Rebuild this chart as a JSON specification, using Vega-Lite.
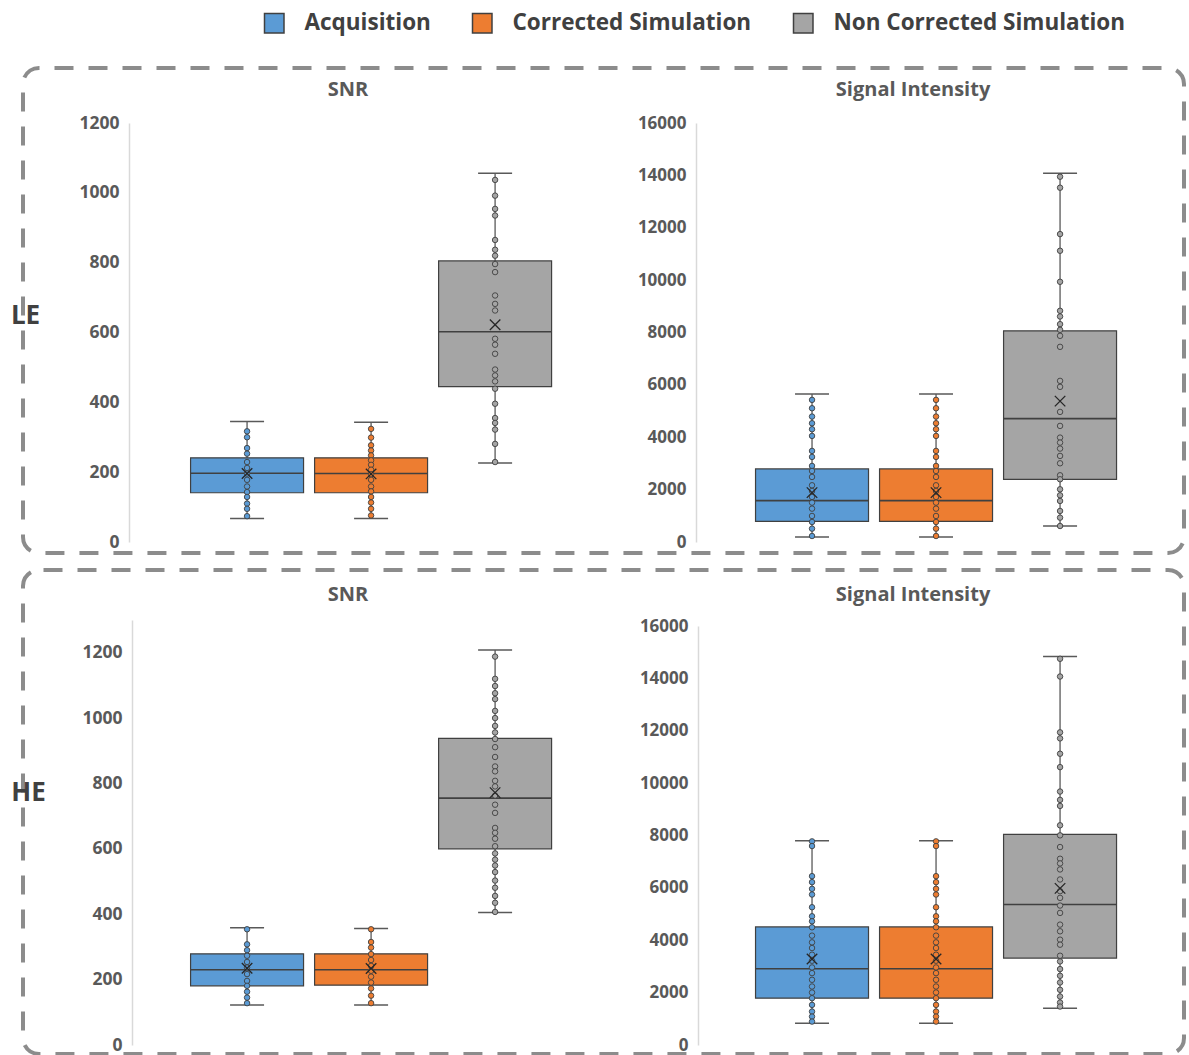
{
  "$schema": "https://vega.github.io/schema/vega-lite/v6.json",
  "padding": {"left": 8, "top": 12, "right": 4, "bottom": 2},
  "config": {
    "font": "Open Sans",
    "view": {"stroke": "#8c8c8c", "strokeWidth": 4, "strokeDash": [19, 15], "cornerRadius": 16},
    "axis": {"labelFont": "Open Sans", "titleFont": "Open Sans", "grid": false},
    "legend": {
      "orient": "none", "legendX": 240, "legendY": -56, "direction": "horizontal",
      "symbolType": "square", "symbolSize": 380, "symbolStrokeColor": "#404040", "symbolStrokeWidth": 1.5,
      "labelFont": "Open Sans", "labelFontSize": 22.5, "labelFontWeight": "bold", "labelColor": "#404040", "labelLimit": 500,
      "labelOffset": 19, "columnPadding": 38, "padding": 0, "title": null
    }
  },
  "datasets": {
    "boxes": [
      {"energy": "LE", "measure": "SNR", "group": "Acquisition", "min": 67, "q1": 141, "median": 197, "q3": 241, "max": 345, "mean": 196},
      {"energy": "LE", "measure": "SNR", "group": "Corrected Simulation", "min": 67, "q1": 141, "median": 196, "q3": 241, "max": 343, "mean": 195},
      {"energy": "LE", "measure": "SNR", "group": "Non Corrected Simulation", "min": 226, "q1": 445, "median": 602, "q3": 805, "max": 1056, "mean": 622},
      {"energy": "LE", "measure": "Signal Intensity", "group": "Acquisition", "min": 191, "q1": 790, "median": 1580, "q3": 2790, "max": 5656, "mean": 1885},
      {"energy": "LE", "measure": "Signal Intensity", "group": "Corrected Simulation", "min": 191, "q1": 790, "median": 1580, "q3": 2790, "max": 5656, "mean": 1885},
      {"energy": "LE", "measure": "Signal Intensity", "group": "Non Corrected Simulation", "min": 611, "q1": 2395, "median": 4713, "q3": 8064, "max": 14077, "mean": 5380},
      {"energy": "HE", "measure": "SNR", "group": "Acquisition", "min": 122, "q1": 181, "median": 230, "q3": 279, "max": 359, "mean": 235},
      {"energy": "HE", "measure": "SNR", "group": "Corrected Simulation", "min": 122, "q1": 183, "median": 230, "q3": 279, "max": 356, "mean": 234},
      {"energy": "HE", "measure": "SNR", "group": "Non Corrected Simulation", "min": 405, "q1": 600, "median": 755, "q3": 938, "max": 1208, "mean": 772},
      {"energy": "HE", "measure": "Signal Intensity", "group": "Acquisition", "min": 830, "q1": 1788, "median": 2911, "q3": 4508, "max": 7802, "mean": 3282},
      {"energy": "HE", "measure": "Signal Intensity", "group": "Corrected Simulation", "min": 830, "q1": 1788, "median": 2911, "q3": 4508, "max": 7802, "mean": 3282},
      {"energy": "HE", "measure": "Signal Intensity", "group": "Non Corrected Simulation", "min": 1405, "q1": 3320, "median": 5363, "q3": 8045, "max": 14838, "mean": 5980}
    ],
    "points": [
      {"energy": "LE", "measure": "SNR", "group": "Acquisition", "value": 317},
      {"energy": "LE", "measure": "SNR", "group": "Acquisition", "value": 300},
      {"energy": "LE", "measure": "SNR", "group": "Acquisition", "value": 269},
      {"energy": "LE", "measure": "SNR", "group": "Acquisition", "value": 253},
      {"energy": "LE", "measure": "SNR", "group": "Acquisition", "value": 229},
      {"energy": "LE", "measure": "SNR", "group": "Acquisition", "value": 212},
      {"energy": "LE", "measure": "SNR", "group": "Acquisition", "value": 196},
      {"energy": "LE", "measure": "SNR", "group": "Acquisition", "value": 178},
      {"energy": "LE", "measure": "SNR", "group": "Acquisition", "value": 159},
      {"energy": "LE", "measure": "SNR", "group": "Acquisition", "value": 143},
      {"energy": "LE", "measure": "SNR", "group": "Acquisition", "value": 129},
      {"energy": "LE", "measure": "SNR", "group": "Acquisition", "value": 110},
      {"energy": "LE", "measure": "SNR", "group": "Acquisition", "value": 95},
      {"energy": "LE", "measure": "SNR", "group": "Acquisition", "value": 74},
      {"energy": "LE", "measure": "SNR", "group": "Corrected Simulation", "value": 324},
      {"energy": "LE", "measure": "SNR", "group": "Corrected Simulation", "value": 299},
      {"energy": "LE", "measure": "SNR", "group": "Corrected Simulation", "value": 277},
      {"energy": "LE", "measure": "SNR", "group": "Corrected Simulation", "value": 262},
      {"energy": "LE", "measure": "SNR", "group": "Corrected Simulation", "value": 248},
      {"energy": "LE", "measure": "SNR", "group": "Corrected Simulation", "value": 234},
      {"energy": "LE", "measure": "SNR", "group": "Corrected Simulation", "value": 221},
      {"energy": "LE", "measure": "SNR", "group": "Corrected Simulation", "value": 207},
      {"energy": "LE", "measure": "SNR", "group": "Corrected Simulation", "value": 194},
      {"energy": "LE", "measure": "SNR", "group": "Corrected Simulation", "value": 178},
      {"energy": "LE", "measure": "SNR", "group": "Corrected Simulation", "value": 159},
      {"energy": "LE", "measure": "SNR", "group": "Corrected Simulation", "value": 145},
      {"energy": "LE", "measure": "SNR", "group": "Corrected Simulation", "value": 129},
      {"energy": "LE", "measure": "SNR", "group": "Corrected Simulation", "value": 113},
      {"energy": "LE", "measure": "SNR", "group": "Corrected Simulation", "value": 95},
      {"energy": "LE", "measure": "SNR", "group": "Corrected Simulation", "value": 76},
      {"energy": "LE", "measure": "SNR", "group": "Non Corrected Simulation", "value": 1037},
      {"energy": "LE", "measure": "SNR", "group": "Non Corrected Simulation", "value": 992},
      {"energy": "LE", "measure": "SNR", "group": "Non Corrected Simulation", "value": 954},
      {"energy": "LE", "measure": "SNR", "group": "Non Corrected Simulation", "value": 935},
      {"energy": "LE", "measure": "SNR", "group": "Non Corrected Simulation", "value": 865},
      {"energy": "LE", "measure": "SNR", "group": "Non Corrected Simulation", "value": 837},
      {"energy": "LE", "measure": "SNR", "group": "Non Corrected Simulation", "value": 820},
      {"energy": "LE", "measure": "SNR", "group": "Non Corrected Simulation", "value": 796},
      {"energy": "LE", "measure": "SNR", "group": "Non Corrected Simulation", "value": 773},
      {"energy": "LE", "measure": "SNR", "group": "Non Corrected Simulation", "value": 706},
      {"energy": "LE", "measure": "SNR", "group": "Non Corrected Simulation", "value": 682},
      {"energy": "LE", "measure": "SNR", "group": "Non Corrected Simulation", "value": 663},
      {"energy": "LE", "measure": "SNR", "group": "Non Corrected Simulation", "value": 582},
      {"energy": "LE", "measure": "SNR", "group": "Non Corrected Simulation", "value": 565},
      {"energy": "LE", "measure": "SNR", "group": "Non Corrected Simulation", "value": 539},
      {"energy": "LE", "measure": "SNR", "group": "Non Corrected Simulation", "value": 494},
      {"energy": "LE", "measure": "SNR", "group": "Non Corrected Simulation", "value": 477},
      {"energy": "LE", "measure": "SNR", "group": "Non Corrected Simulation", "value": 460},
      {"energy": "LE", "measure": "SNR", "group": "Non Corrected Simulation", "value": 439},
      {"energy": "LE", "measure": "SNR", "group": "Non Corrected Simulation", "value": 396},
      {"energy": "LE", "measure": "SNR", "group": "Non Corrected Simulation", "value": 355},
      {"energy": "LE", "measure": "SNR", "group": "Non Corrected Simulation", "value": 341},
      {"energy": "LE", "measure": "SNR", "group": "Non Corrected Simulation", "value": 322},
      {"energy": "LE", "measure": "SNR", "group": "Non Corrected Simulation", "value": 281},
      {"energy": "LE", "measure": "SNR", "group": "Non Corrected Simulation", "value": 229},
      {"energy": "LE", "measure": "Signal Intensity", "group": "Acquisition", "value": 5427},
      {"energy": "LE", "measure": "Signal Intensity", "group": "Acquisition", "value": 5108},
      {"energy": "LE", "measure": "Signal Intensity", "group": "Acquisition", "value": 4790},
      {"energy": "LE", "measure": "Signal Intensity", "group": "Acquisition", "value": 4535},
      {"energy": "LE", "measure": "Signal Intensity", "group": "Acquisition", "value": 4306},
      {"energy": "LE", "measure": "Signal Intensity", "group": "Acquisition", "value": 4051},
      {"energy": "LE", "measure": "Signal Intensity", "group": "Acquisition", "value": 3478},
      {"energy": "LE", "measure": "Signal Intensity", "group": "Acquisition", "value": 3249},
      {"energy": "LE", "measure": "Signal Intensity", "group": "Acquisition", "value": 2904},
      {"energy": "LE", "measure": "Signal Intensity", "group": "Acquisition", "value": 2713},
      {"energy": "LE", "measure": "Signal Intensity", "group": "Acquisition", "value": 2484},
      {"energy": "LE", "measure": "Signal Intensity", "group": "Acquisition", "value": 2166},
      {"energy": "LE", "measure": "Signal Intensity", "group": "Acquisition", "value": 1949},
      {"energy": "LE", "measure": "Signal Intensity", "group": "Acquisition", "value": 1720},
      {"energy": "LE", "measure": "Signal Intensity", "group": "Acquisition", "value": 1503},
      {"energy": "LE", "measure": "Signal Intensity", "group": "Acquisition", "value": 1274},
      {"energy": "LE", "measure": "Signal Intensity", "group": "Acquisition", "value": 994},
      {"energy": "LE", "measure": "Signal Intensity", "group": "Acquisition", "value": 764},
      {"energy": "LE", "measure": "Signal Intensity", "group": "Acquisition", "value": 510},
      {"energy": "LE", "measure": "Signal Intensity", "group": "Acquisition", "value": 229},
      {"energy": "LE", "measure": "Signal Intensity", "group": "Corrected Simulation", "value": 5427},
      {"energy": "LE", "measure": "Signal Intensity", "group": "Corrected Simulation", "value": 5108},
      {"energy": "LE", "measure": "Signal Intensity", "group": "Corrected Simulation", "value": 4790},
      {"energy": "LE", "measure": "Signal Intensity", "group": "Corrected Simulation", "value": 4535},
      {"energy": "LE", "measure": "Signal Intensity", "group": "Corrected Simulation", "value": 4306},
      {"energy": "LE", "measure": "Signal Intensity", "group": "Corrected Simulation", "value": 4051},
      {"energy": "LE", "measure": "Signal Intensity", "group": "Corrected Simulation", "value": 3478},
      {"energy": "LE", "measure": "Signal Intensity", "group": "Corrected Simulation", "value": 3249},
      {"energy": "LE", "measure": "Signal Intensity", "group": "Corrected Simulation", "value": 2904},
      {"energy": "LE", "measure": "Signal Intensity", "group": "Corrected Simulation", "value": 2713},
      {"energy": "LE", "measure": "Signal Intensity", "group": "Corrected Simulation", "value": 2484},
      {"energy": "LE", "measure": "Signal Intensity", "group": "Corrected Simulation", "value": 2166},
      {"energy": "LE", "measure": "Signal Intensity", "group": "Corrected Simulation", "value": 1949},
      {"energy": "LE", "measure": "Signal Intensity", "group": "Corrected Simulation", "value": 1720},
      {"energy": "LE", "measure": "Signal Intensity", "group": "Corrected Simulation", "value": 1503},
      {"energy": "LE", "measure": "Signal Intensity", "group": "Corrected Simulation", "value": 1274},
      {"energy": "LE", "measure": "Signal Intensity", "group": "Corrected Simulation", "value": 994},
      {"energy": "LE", "measure": "Signal Intensity", "group": "Corrected Simulation", "value": 764},
      {"energy": "LE", "measure": "Signal Intensity", "group": "Corrected Simulation", "value": 510},
      {"energy": "LE", "measure": "Signal Intensity", "group": "Corrected Simulation", "value": 229},
      {"energy": "LE", "measure": "Signal Intensity", "group": "Non Corrected Simulation", "value": 13949},
      {"energy": "LE", "measure": "Signal Intensity", "group": "Non Corrected Simulation", "value": 13529},
      {"energy": "LE", "measure": "Signal Intensity", "group": "Non Corrected Simulation", "value": 11758},
      {"energy": "LE", "measure": "Signal Intensity", "group": "Non Corrected Simulation", "value": 11121},
      {"energy": "LE", "measure": "Signal Intensity", "group": "Non Corrected Simulation", "value": 9936},
      {"energy": "LE", "measure": "Signal Intensity", "group": "Non Corrected Simulation", "value": 8828},
      {"energy": "LE", "measure": "Signal Intensity", "group": "Non Corrected Simulation", "value": 8612},
      {"energy": "LE", "measure": "Signal Intensity", "group": "Non Corrected Simulation", "value": 8319},
      {"energy": "LE", "measure": "Signal Intensity", "group": "Non Corrected Simulation", "value": 8102},
      {"energy": "LE", "measure": "Signal Intensity", "group": "Non Corrected Simulation", "value": 7873},
      {"energy": "LE", "measure": "Signal Intensity", "group": "Non Corrected Simulation", "value": 7452},
      {"energy": "LE", "measure": "Signal Intensity", "group": "Non Corrected Simulation", "value": 6153},
      {"energy": "LE", "measure": "Signal Intensity", "group": "Non Corrected Simulation", "value": 5924},
      {"energy": "LE", "measure": "Signal Intensity", "group": "Non Corrected Simulation", "value": 4968},
      {"energy": "LE", "measure": "Signal Intensity", "group": "Non Corrected Simulation", "value": 4433},
      {"energy": "LE", "measure": "Signal Intensity", "group": "Non Corrected Simulation", "value": 3987},
      {"energy": "LE", "measure": "Signal Intensity", "group": "Non Corrected Simulation", "value": 3796},
      {"energy": "LE", "measure": "Signal Intensity", "group": "Non Corrected Simulation", "value": 3567},
      {"energy": "LE", "measure": "Signal Intensity", "group": "Non Corrected Simulation", "value": 3287},
      {"energy": "LE", "measure": "Signal Intensity", "group": "Non Corrected Simulation", "value": 3006},
      {"energy": "LE", "measure": "Signal Intensity", "group": "Non Corrected Simulation", "value": 2548},
      {"energy": "LE", "measure": "Signal Intensity", "group": "Non Corrected Simulation", "value": 2395},
      {"energy": "LE", "measure": "Signal Intensity", "group": "Non Corrected Simulation", "value": 2013},
      {"energy": "LE", "measure": "Signal Intensity", "group": "Non Corrected Simulation", "value": 1783},
      {"energy": "LE", "measure": "Signal Intensity", "group": "Non Corrected Simulation", "value": 1567},
      {"energy": "LE", "measure": "Signal Intensity", "group": "Non Corrected Simulation", "value": 1185},
      {"energy": "LE", "measure": "Signal Intensity", "group": "Non Corrected Simulation", "value": 930},
      {"energy": "LE", "measure": "Signal Intensity", "group": "Non Corrected Simulation", "value": 611},
      {"energy": "HE", "measure": "SNR", "group": "Acquisition", "value": 354},
      {"energy": "HE", "measure": "SNR", "group": "Acquisition", "value": 308},
      {"energy": "HE", "measure": "SNR", "group": "Acquisition", "value": 290},
      {"energy": "HE", "measure": "SNR", "group": "Acquisition", "value": 273},
      {"energy": "HE", "measure": "SNR", "group": "Acquisition", "value": 254},
      {"energy": "HE", "measure": "SNR", "group": "Acquisition", "value": 237},
      {"energy": "HE", "measure": "SNR", "group": "Acquisition", "value": 217},
      {"energy": "HE", "measure": "SNR", "group": "Acquisition", "value": 196},
      {"energy": "HE", "measure": "SNR", "group": "Acquisition", "value": 181},
      {"energy": "HE", "measure": "SNR", "group": "Acquisition", "value": 163},
      {"energy": "HE", "measure": "SNR", "group": "Acquisition", "value": 145},
      {"energy": "HE", "measure": "SNR", "group": "Acquisition", "value": 128},
      {"energy": "HE", "measure": "SNR", "group": "Corrected Simulation", "value": 354},
      {"energy": "HE", "measure": "SNR", "group": "Corrected Simulation", "value": 315},
      {"energy": "HE", "measure": "SNR", "group": "Corrected Simulation", "value": 298},
      {"energy": "HE", "measure": "SNR", "group": "Corrected Simulation", "value": 278},
      {"energy": "HE", "measure": "SNR", "group": "Corrected Simulation", "value": 260},
      {"energy": "HE", "measure": "SNR", "group": "Corrected Simulation", "value": 242},
      {"energy": "HE", "measure": "SNR", "group": "Corrected Simulation", "value": 227},
      {"energy": "HE", "measure": "SNR", "group": "Corrected Simulation", "value": 209},
      {"energy": "HE", "measure": "SNR", "group": "Corrected Simulation", "value": 191},
      {"energy": "HE", "measure": "SNR", "group": "Corrected Simulation", "value": 173},
      {"energy": "HE", "measure": "SNR", "group": "Corrected Simulation", "value": 151},
      {"energy": "HE", "measure": "SNR", "group": "Corrected Simulation", "value": 128},
      {"energy": "HE", "measure": "SNR", "group": "Non Corrected Simulation", "value": 1188},
      {"energy": "HE", "measure": "SNR", "group": "Non Corrected Simulation", "value": 1120},
      {"energy": "HE", "measure": "SNR", "group": "Non Corrected Simulation", "value": 1098},
      {"energy": "HE", "measure": "SNR", "group": "Non Corrected Simulation", "value": 1076},
      {"energy": "HE", "measure": "SNR", "group": "Non Corrected Simulation", "value": 1058},
      {"energy": "HE", "measure": "SNR", "group": "Non Corrected Simulation", "value": 1022},
      {"energy": "HE", "measure": "SNR", "group": "Non Corrected Simulation", "value": 1000},
      {"energy": "HE", "measure": "SNR", "group": "Non Corrected Simulation", "value": 976},
      {"energy": "HE", "measure": "SNR", "group": "Non Corrected Simulation", "value": 956},
      {"energy": "HE", "measure": "SNR", "group": "Non Corrected Simulation", "value": 936},
      {"energy": "HE", "measure": "SNR", "group": "Non Corrected Simulation", "value": 911},
      {"energy": "HE", "measure": "SNR", "group": "Non Corrected Simulation", "value": 881},
      {"energy": "HE", "measure": "SNR", "group": "Non Corrected Simulation", "value": 852},
      {"energy": "HE", "measure": "SNR", "group": "Non Corrected Simulation", "value": 837},
      {"energy": "HE", "measure": "SNR", "group": "Non Corrected Simulation", "value": 808},
      {"energy": "HE", "measure": "SNR", "group": "Non Corrected Simulation", "value": 791},
      {"energy": "HE", "measure": "SNR", "group": "Non Corrected Simulation", "value": 763},
      {"energy": "HE", "measure": "SNR", "group": "Non Corrected Simulation", "value": 735},
      {"energy": "HE", "measure": "SNR", "group": "Non Corrected Simulation", "value": 710},
      {"energy": "HE", "measure": "SNR", "group": "Non Corrected Simulation", "value": 664},
      {"energy": "HE", "measure": "SNR", "group": "Non Corrected Simulation", "value": 649},
      {"energy": "HE", "measure": "SNR", "group": "Non Corrected Simulation", "value": 631},
      {"energy": "HE", "measure": "SNR", "group": "Non Corrected Simulation", "value": 608},
      {"energy": "HE", "measure": "SNR", "group": "Non Corrected Simulation", "value": 586},
      {"energy": "HE", "measure": "SNR", "group": "Non Corrected Simulation", "value": 567},
      {"energy": "HE", "measure": "SNR", "group": "Non Corrected Simulation", "value": 549},
      {"energy": "HE", "measure": "SNR", "group": "Non Corrected Simulation", "value": 529},
      {"energy": "HE", "measure": "SNR", "group": "Non Corrected Simulation", "value": 503},
      {"energy": "HE", "measure": "SNR", "group": "Non Corrected Simulation", "value": 481},
      {"energy": "HE", "measure": "SNR", "group": "Non Corrected Simulation", "value": 456},
      {"energy": "HE", "measure": "SNR", "group": "Non Corrected Simulation", "value": 435},
      {"energy": "HE", "measure": "SNR", "group": "Non Corrected Simulation", "value": 407},
      {"energy": "HE", "measure": "Signal Intensity", "group": "Acquisition", "value": 7776},
      {"energy": "HE", "measure": "Signal Intensity", "group": "Acquisition", "value": 7598},
      {"energy": "HE", "measure": "Signal Intensity", "group": "Acquisition", "value": 6448},
      {"energy": "HE", "measure": "Signal Intensity", "group": "Acquisition", "value": 6219},
      {"energy": "HE", "measure": "Signal Intensity", "group": "Acquisition", "value": 5963},
      {"energy": "HE", "measure": "Signal Intensity", "group": "Acquisition", "value": 5746},
      {"energy": "HE", "measure": "Signal Intensity", "group": "Acquisition", "value": 5261},
      {"energy": "HE", "measure": "Signal Intensity", "group": "Acquisition", "value": 4916},
      {"energy": "HE", "measure": "Signal Intensity", "group": "Acquisition", "value": 4725},
      {"energy": "HE", "measure": "Signal Intensity", "group": "Acquisition", "value": 4495},
      {"energy": "HE", "measure": "Signal Intensity", "group": "Acquisition", "value": 4176},
      {"energy": "HE", "measure": "Signal Intensity", "group": "Acquisition", "value": 3920},
      {"energy": "HE", "measure": "Signal Intensity", "group": "Acquisition", "value": 3703},
      {"energy": "HE", "measure": "Signal Intensity", "group": "Acquisition", "value": 3448},
      {"energy": "HE", "measure": "Signal Intensity", "group": "Acquisition", "value": 3218},
      {"energy": "HE", "measure": "Signal Intensity", "group": "Acquisition", "value": 2962},
      {"energy": "HE", "measure": "Signal Intensity", "group": "Acquisition", "value": 2745},
      {"energy": "HE", "measure": "Signal Intensity", "group": "Acquisition", "value": 2490},
      {"energy": "HE", "measure": "Signal Intensity", "group": "Acquisition", "value": 2234},
      {"energy": "HE", "measure": "Signal Intensity", "group": "Acquisition", "value": 2005},
      {"energy": "HE", "measure": "Signal Intensity", "group": "Acquisition", "value": 1788},
      {"energy": "HE", "measure": "Signal Intensity", "group": "Acquisition", "value": 1532},
      {"energy": "HE", "measure": "Signal Intensity", "group": "Acquisition", "value": 1277},
      {"energy": "HE", "measure": "Signal Intensity", "group": "Acquisition", "value": 1085},
      {"energy": "HE", "measure": "Signal Intensity", "group": "Acquisition", "value": 894},
      {"energy": "HE", "measure": "Signal Intensity", "group": "Corrected Simulation", "value": 7776},
      {"energy": "HE", "measure": "Signal Intensity", "group": "Corrected Simulation", "value": 7598},
      {"energy": "HE", "measure": "Signal Intensity", "group": "Corrected Simulation", "value": 6448},
      {"energy": "HE", "measure": "Signal Intensity", "group": "Corrected Simulation", "value": 6219},
      {"energy": "HE", "measure": "Signal Intensity", "group": "Corrected Simulation", "value": 5963},
      {"energy": "HE", "measure": "Signal Intensity", "group": "Corrected Simulation", "value": 5746},
      {"energy": "HE", "measure": "Signal Intensity", "group": "Corrected Simulation", "value": 5261},
      {"energy": "HE", "measure": "Signal Intensity", "group": "Corrected Simulation", "value": 4916},
      {"energy": "HE", "measure": "Signal Intensity", "group": "Corrected Simulation", "value": 4725},
      {"energy": "HE", "measure": "Signal Intensity", "group": "Corrected Simulation", "value": 4495},
      {"energy": "HE", "measure": "Signal Intensity", "group": "Corrected Simulation", "value": 4176},
      {"energy": "HE", "measure": "Signal Intensity", "group": "Corrected Simulation", "value": 3920},
      {"energy": "HE", "measure": "Signal Intensity", "group": "Corrected Simulation", "value": 3703},
      {"energy": "HE", "measure": "Signal Intensity", "group": "Corrected Simulation", "value": 3448},
      {"energy": "HE", "measure": "Signal Intensity", "group": "Corrected Simulation", "value": 3218},
      {"energy": "HE", "measure": "Signal Intensity", "group": "Corrected Simulation", "value": 2962},
      {"energy": "HE", "measure": "Signal Intensity", "group": "Corrected Simulation", "value": 2745},
      {"energy": "HE", "measure": "Signal Intensity", "group": "Corrected Simulation", "value": 2490},
      {"energy": "HE", "measure": "Signal Intensity", "group": "Corrected Simulation", "value": 2234},
      {"energy": "HE", "measure": "Signal Intensity", "group": "Corrected Simulation", "value": 2005},
      {"energy": "HE", "measure": "Signal Intensity", "group": "Corrected Simulation", "value": 1788},
      {"energy": "HE", "measure": "Signal Intensity", "group": "Corrected Simulation", "value": 1532},
      {"energy": "HE", "measure": "Signal Intensity", "group": "Corrected Simulation", "value": 1277},
      {"energy": "HE", "measure": "Signal Intensity", "group": "Corrected Simulation", "value": 1085},
      {"energy": "HE", "measure": "Signal Intensity", "group": "Corrected Simulation", "value": 894},
      {"energy": "HE", "measure": "Signal Intensity", "group": "Non Corrected Simulation", "value": 14748},
      {"energy": "HE", "measure": "Signal Intensity", "group": "Non Corrected Simulation", "value": 14071},
      {"energy": "HE", "measure": "Signal Intensity", "group": "Non Corrected Simulation", "value": 11939},
      {"energy": "HE", "measure": "Signal Intensity", "group": "Non Corrected Simulation", "value": 11709},
      {"energy": "HE", "measure": "Signal Intensity", "group": "Non Corrected Simulation", "value": 11122},
      {"energy": "HE", "measure": "Signal Intensity", "group": "Non Corrected Simulation", "value": 10611},
      {"energy": "HE", "measure": "Signal Intensity", "group": "Non Corrected Simulation", "value": 9679},
      {"energy": "HE", "measure": "Signal Intensity", "group": "Non Corrected Simulation", "value": 9360},
      {"energy": "HE", "measure": "Signal Intensity", "group": "Non Corrected Simulation", "value": 9130},
      {"energy": "HE", "measure": "Signal Intensity", "group": "Non Corrected Simulation", "value": 8389},
      {"energy": "HE", "measure": "Signal Intensity", "group": "Non Corrected Simulation", "value": 8006},
      {"energy": "HE", "measure": "Signal Intensity", "group": "Non Corrected Simulation", "value": 7559},
      {"energy": "HE", "measure": "Signal Intensity", "group": "Non Corrected Simulation", "value": 7112},
      {"energy": "HE", "measure": "Signal Intensity", "group": "Non Corrected Simulation", "value": 6934},
      {"energy": "HE", "measure": "Signal Intensity", "group": "Non Corrected Simulation", "value": 6704},
      {"energy": "HE", "measure": "Signal Intensity", "group": "Non Corrected Simulation", "value": 6321},
      {"energy": "HE", "measure": "Signal Intensity", "group": "Non Corrected Simulation", "value": 5874},
      {"energy": "HE", "measure": "Signal Intensity", "group": "Non Corrected Simulation", "value": 5618},
      {"energy": "HE", "measure": "Signal Intensity", "group": "Non Corrected Simulation", "value": 5325},
      {"energy": "HE", "measure": "Signal Intensity", "group": "Non Corrected Simulation", "value": 5044},
      {"energy": "HE", "measure": "Signal Intensity", "group": "Non Corrected Simulation", "value": 4597},
      {"energy": "HE", "measure": "Signal Intensity", "group": "Non Corrected Simulation", "value": 4342},
      {"energy": "HE", "measure": "Signal Intensity", "group": "Non Corrected Simulation", "value": 4022},
      {"energy": "HE", "measure": "Signal Intensity", "group": "Non Corrected Simulation", "value": 3831},
      {"energy": "HE", "measure": "Signal Intensity", "group": "Non Corrected Simulation", "value": 3409},
      {"energy": "HE", "measure": "Signal Intensity", "group": "Non Corrected Simulation", "value": 3192},
      {"energy": "HE", "measure": "Signal Intensity", "group": "Non Corrected Simulation", "value": 2899},
      {"energy": "HE", "measure": "Signal Intensity", "group": "Non Corrected Simulation", "value": 2643},
      {"energy": "HE", "measure": "Signal Intensity", "group": "Non Corrected Simulation", "value": 2388},
      {"energy": "HE", "measure": "Signal Intensity", "group": "Non Corrected Simulation", "value": 2107},
      {"energy": "HE", "measure": "Signal Intensity", "group": "Non Corrected Simulation", "value": 1852},
      {"energy": "HE", "measure": "Signal Intensity", "group": "Non Corrected Simulation", "value": 1622},
      {"energy": "HE", "measure": "Signal Intensity", "group": "Non Corrected Simulation", "value": 1468}
    ]
  },
  "resolve": {"scale": {"fill": "shared"}, "legend": {"fill": "shared"}},
  "spacing": 13,
  "vconcat": [
    {
      "width": 1161, "height": 485,
      "view": {"strokeDashOffset": 18.5},
      "encoding": {
        "x": {"field": "measure", "type": "nominal",
          "scale": {"domain": ["SNR", "Signal Intensity"], "paddingInner": 0.361, "paddingOuter": 0.208, "align": 0.713},
          "axis": {"orient": "top", "offset": -21, "domain": false, "ticks": false, "tickSize": 0, "labelPadding": 0, "labelBaseline": "middle", "labelOffset": -23, "labelAngle": 0, "labelFontSize": 20, "labelFontWeight": "bold", "labelColor": "#595959", "title": null}},
        "xOffset": {"field": "group", "type": "nominal", "scale": {"domain": ["Acquisition", "Corrected Simulation", "Non Corrected Simulation"], "paddingInner": 0.089, "paddingOuter": 0}}
      },
      "resolve": {"scale": {"y": "independent"}, "axis": {"y": "independent"}},
      "layer": [
        {
          "layer": [
            {
              "data": {"name": "boxes"},
              "transform": [{"filter": "datum.energy === 'LE' && datum.measure === 'SNR'"}],
              "layer": [
                {"mark": {"type": "rule", "color": "#595959", "strokeWidth": 1.3},
                 "encoding": {"y": {"field": "min", "type": "quantitative",
                   "scale": {"domain": [0, 1200], "range": [474, 55], "nice": false, "zero": true},
                   "axis": {"orient": "left", "offset": -106, "values": [0, 200, 400, 600, 800, 1000, 1200], "format": "d", "title": "LE", "titleAngle": 0, "titleX": -104, "titleY": 247, "titleAlign": "center", "titleBaseline": "middle", "titleFontSize": 26, "titleFontWeight": "bold", "titleColor": "#404040", "ticks": false, "domainColor": "#d9d9d9", "domainWidth": 1.5, "labelFontSize": 17.5, "labelFontWeight": "bold", "labelColor": "#595959", "labelPadding": 10}},
                   "y2": {"field": "max"}}},
                {"mark": {"type": "bar", "stroke": "#404040", "strokeWidth": 1.2},
                 "encoding": {"y": {"field": "q1", "type": "quantitative"}, "y2": {"field": "q3"},
                   "fill": {"field": "group", "type": "nominal", "scale": {"domain": ["Acquisition", "Corrected Simulation", "Non Corrected Simulation"], "range": ["#5B9BD5", "#ED7D31", "#A5A5A5"]}}}},
                {"mark": {"type": "tick", "orient": "horizontal", "size": 113, "thickness": 1.6, "color": "#404040", "opacity": 1},
                 "encoding": {"y": {"field": "median", "type": "quantitative"}}},
                {"mark": {"type": "tick", "orient": "horizontal", "size": 34, "thickness": 1.5, "color": "#595959", "opacity": 1},
                 "encoding": {"y": {"field": "max", "type": "quantitative"}}},
                {"mark": {"type": "tick", "orient": "horizontal", "size": 34, "thickness": 1.5, "color": "#595959", "opacity": 1},
                 "encoding": {"y": {"field": "min", "type": "quantitative"}}}
              ]
            },
            {
              "data": {"name": "points"},
              "transform": [{"filter": "datum.energy === 'LE' && datum.measure === 'SNR'"}],
              "mark": {"type": "point", "shape": "circle", "filled": true, "size": 30, "stroke": "#404040", "strokeWidth": 0.9, "opacity": 1},
              "encoding": {"y": {"field": "value", "type": "quantitative"},
                "fill": {"field": "group", "type": "nominal"}}
            },
            {
              "data": {"name": "boxes"},
              "transform": [{"filter": "datum.energy === 'LE' && datum.measure === 'SNR'"}],
              "mark": {"type": "point", "shape": "M-1,-1L1,1M-1,1L1,-1", "size": 110, "filled": false, "stroke": "#262626", "strokeWidth": 1.3, "opacity": 1},
              "encoding": {"y": {"field": "mean", "type": "quantitative"}}
            }
          ]
        },
        {
          "layer": [
            {
              "data": {"name": "boxes"},
              "transform": [{"filter": "datum.energy === 'LE' && datum.measure === 'Signal Intensity'"}],
              "layer": [
                {"mark": {"type": "rule", "color": "#595959", "strokeWidth": 1.3},
                 "encoding": {"y": {"field": "min", "type": "quantitative",
                   "scale": {"domain": [0, 16000], "range": [474, 55], "nice": false, "zero": true},
                   "axis": {"orient": "left", "offset": -673, "values": [0, 2000, 4000, 6000, 8000, 10000, 12000, 14000, 16000], "format": "d", "title": null, "ticks": false, "domainColor": "#d9d9d9", "domainWidth": 1.5, "labelFontSize": 17, "labelFontWeight": "bold", "labelColor": "#595959", "labelPadding": 10}},
                   "y2": {"field": "max"}}},
                {"mark": {"type": "bar", "stroke": "#404040", "strokeWidth": 1.2},
                 "encoding": {"y": {"field": "q1", "type": "quantitative"}, "y2": {"field": "q3"},
                   "fill": {"field": "group", "type": "nominal"}}},
                {"mark": {"type": "tick", "orient": "horizontal", "size": 113, "thickness": 1.6, "color": "#404040", "opacity": 1},
                 "encoding": {"y": {"field": "median", "type": "quantitative"}}},
                {"mark": {"type": "tick", "orient": "horizontal", "size": 34, "thickness": 1.5, "color": "#595959", "opacity": 1},
                 "encoding": {"y": {"field": "max", "type": "quantitative"}}},
                {"mark": {"type": "tick", "orient": "horizontal", "size": 34, "thickness": 1.5, "color": "#595959", "opacity": 1},
                 "encoding": {"y": {"field": "min", "type": "quantitative"}}}
              ]
            },
            {
              "data": {"name": "points"},
              "transform": [{"filter": "datum.energy === 'LE' && datum.measure === 'Signal Intensity'"}],
              "mark": {"type": "point", "shape": "circle", "filled": true, "size": 30, "stroke": "#404040", "strokeWidth": 0.9, "opacity": 1},
              "encoding": {"y": {"field": "value", "type": "quantitative"},
                "fill": {"field": "group", "type": "nominal"}}
            },
            {
              "data": {"name": "boxes"},
              "transform": [{"filter": "datum.energy === 'LE' && datum.measure === 'Signal Intensity'"}],
              "mark": {"type": "point", "shape": "M-1,-1L1,1M-1,1L1,-1", "size": 110, "filled": false, "stroke": "#262626", "strokeWidth": 1.3, "opacity": 1},
              "encoding": {"y": {"field": "mean", "type": "quantitative"}}
            }
          ]
        }
      ]
    },
    {
      "width": 1161, "height": 484,
      "view": {"strokeDashOffset": 29.5},
      "encoding": {
        "x": {"field": "measure", "type": "nominal",
          "scale": {"domain": ["SNR", "Signal Intensity"], "paddingInner": 0.361, "paddingOuter": 0.208, "align": 0.713},
          "axis": {"orient": "top", "offset": -24, "domain": false, "ticks": false, "tickSize": 0, "labelPadding": 0, "labelBaseline": "middle", "labelOffset": -23, "labelAngle": 0, "labelFontSize": 20, "labelFontWeight": "bold", "labelColor": "#595959", "title": null}},
        "xOffset": {"field": "group", "type": "nominal", "scale": {"domain": ["Acquisition", "Corrected Simulation", "Non Corrected Simulation"], "paddingInner": 0.089, "paddingOuter": 0}}
      },
      "resolve": {"scale": {"y": "independent"}, "axis": {"y": "independent"}},
      "layer": [
        {
          "layer": [
            {
              "data": {"name": "boxes"},
              "transform": [{"filter": "datum.energy === 'HE' && datum.measure === 'SNR'"}],
              "layer": [
                {"mark": {"type": "rule", "color": "#595959", "strokeWidth": 1.3},
                 "encoding": {"y": {"field": "min", "type": "quantitative",
                   "scale": {"domain": [0, 1300], "range": [475, 50], "nice": false, "zero": true},
                   "axis": {"orient": "left", "offset": -109, "values": [0, 200, 400, 600, 800, 1000, 1200], "format": "d", "title": "HE", "titleAngle": 0, "titleX": -104, "titleY": 222, "titleAlign": "center", "titleBaseline": "middle", "titleFontSize": 26, "titleFontWeight": "bold", "titleColor": "#404040", "ticks": false, "domainColor": "#d9d9d9", "domainWidth": 1.5, "labelFontSize": 17.5, "labelFontWeight": "bold", "labelColor": "#595959", "labelPadding": 10}},
                   "y2": {"field": "max"}}},
                {"mark": {"type": "bar", "stroke": "#404040", "strokeWidth": 1.2},
                 "encoding": {"y": {"field": "q1", "type": "quantitative"}, "y2": {"field": "q3"},
                   "fill": {"field": "group", "type": "nominal"}}},
                {"mark": {"type": "tick", "orient": "horizontal", "size": 113, "thickness": 1.6, "color": "#404040", "opacity": 1},
                 "encoding": {"y": {"field": "median", "type": "quantitative"}}},
                {"mark": {"type": "tick", "orient": "horizontal", "size": 34, "thickness": 1.5, "color": "#595959", "opacity": 1},
                 "encoding": {"y": {"field": "max", "type": "quantitative"}}},
                {"mark": {"type": "tick", "orient": "horizontal", "size": 34, "thickness": 1.5, "color": "#595959", "opacity": 1},
                 "encoding": {"y": {"field": "min", "type": "quantitative"}}}
              ]
            },
            {
              "data": {"name": "points"},
              "transform": [{"filter": "datum.energy === 'HE' && datum.measure === 'SNR'"}],
              "mark": {"type": "point", "shape": "circle", "filled": true, "size": 30, "stroke": "#404040", "strokeWidth": 0.9, "opacity": 1},
              "encoding": {"y": {"field": "value", "type": "quantitative"},
                "fill": {"field": "group", "type": "nominal"}}
            },
            {
              "data": {"name": "boxes"},
              "transform": [{"filter": "datum.energy === 'HE' && datum.measure === 'SNR'"}],
              "mark": {"type": "point", "shape": "M-1,-1L1,1M-1,1L1,-1", "size": 110, "filled": false, "stroke": "#262626", "strokeWidth": 1.3, "opacity": 1},
              "encoding": {"y": {"field": "mean", "type": "quantitative"}}
            }
          ]
        },
        {
          "layer": [
            {
              "data": {"name": "boxes"},
              "transform": [{"filter": "datum.energy === 'HE' && datum.measure === 'Signal Intensity'"}],
              "layer": [
                {"mark": {"type": "rule", "color": "#595959", "strokeWidth": 1.3},
                 "encoding": {"y": {"field": "min", "type": "quantitative",
                   "scale": {"domain": [0, 16000], "range": [475, 56], "nice": false, "zero": true},
                   "axis": {"orient": "left", "offset": -675, "values": [0, 2000, 4000, 6000, 8000, 10000, 12000, 14000, 16000], "format": "d", "title": null, "ticks": false, "domainColor": "#d9d9d9", "domainWidth": 1.5, "labelFontSize": 17, "labelFontWeight": "bold", "labelColor": "#595959", "labelPadding": 10}},
                   "y2": {"field": "max"}}},
                {"mark": {"type": "bar", "stroke": "#404040", "strokeWidth": 1.2},
                 "encoding": {"y": {"field": "q1", "type": "quantitative"}, "y2": {"field": "q3"},
                   "fill": {"field": "group", "type": "nominal"}}},
                {"mark": {"type": "tick", "orient": "horizontal", "size": 113, "thickness": 1.6, "color": "#404040", "opacity": 1},
                 "encoding": {"y": {"field": "median", "type": "quantitative"}}},
                {"mark": {"type": "tick", "orient": "horizontal", "size": 34, "thickness": 1.5, "color": "#595959", "opacity": 1},
                 "encoding": {"y": {"field": "max", "type": "quantitative"}}},
                {"mark": {"type": "tick", "orient": "horizontal", "size": 34, "thickness": 1.5, "color": "#595959", "opacity": 1},
                 "encoding": {"y": {"field": "min", "type": "quantitative"}}}
              ]
            },
            {
              "data": {"name": "points"},
              "transform": [{"filter": "datum.energy === 'HE' && datum.measure === 'Signal Intensity'"}],
              "mark": {"type": "point", "shape": "circle", "filled": true, "size": 30, "stroke": "#404040", "strokeWidth": 0.9, "opacity": 1},
              "encoding": {"y": {"field": "value", "type": "quantitative"},
                "fill": {"field": "group", "type": "nominal"}}
            },
            {
              "data": {"name": "boxes"},
              "transform": [{"filter": "datum.energy === 'HE' && datum.measure === 'Signal Intensity'"}],
              "mark": {"type": "point", "shape": "M-1,-1L1,1M-1,1L1,-1", "size": 110, "filled": false, "stroke": "#262626", "strokeWidth": 1.3, "opacity": 1},
              "encoding": {"y": {"field": "mean", "type": "quantitative"}}
            }
          ]
        }
      ]
    }
  ]
}
